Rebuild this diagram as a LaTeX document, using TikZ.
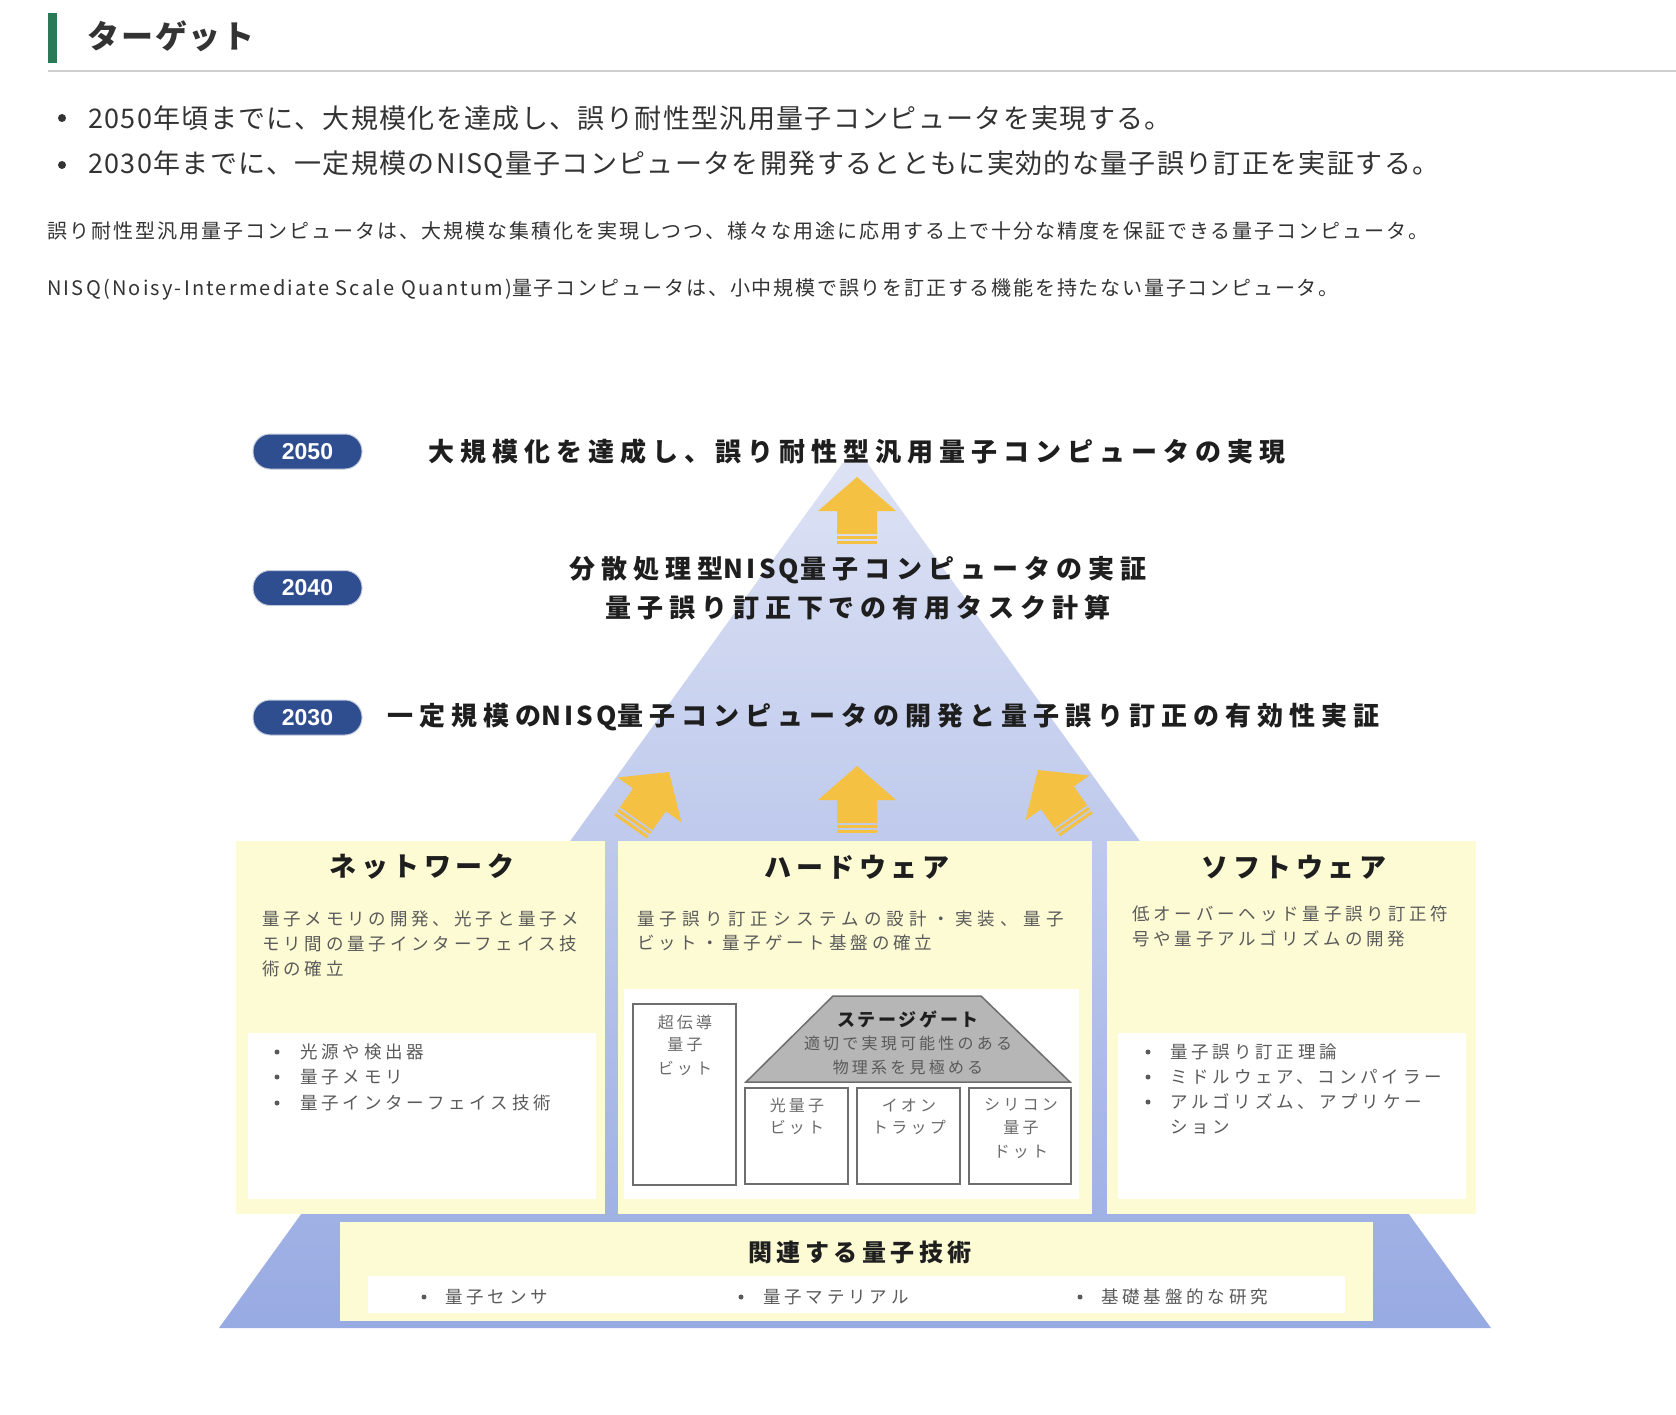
\documentclass[tikz,border=0pt]{standalone}
\usepackage{fontspec}
\newfontfamily\jp{Noto Sans CJK JP}
\newfontfamily\numf{Liberation Sans}
\newcommand\myfs[2]{\fontsize{#1}{#2}\selectfont}
\newcommand\lsp[1]{\addfontfeatures{LetterSpace=#1}}
\definecolor{hdrgreen}{HTML}{2B7A57}
\definecolor{rulegray}{HTML}{CFCFCF}
\definecolor{webtxt}{HTML}{333333}
\definecolor{triTop}{HTML}{DDE2F4}
\definecolor{triMid}{HTML}{C3CEEE}
\definecolor{triBot}{HTML}{97AAE2}
\definecolor{pyellow}{HTML}{FDFBD4}
\definecolor{badge}{HTML}{2E4E90}
\definecolor{badgeedge}{HTML}{C5CCDD}
\definecolor{dark}{HTML}{1E1E1E}
\definecolor{body}{HTML}{5A5A5A}
\definecolor{body2}{HTML}{6A6A6A}
\definecolor{cellline}{HTML}{6E6E6E}
\definecolor{gatefill}{HTML}{B6B6B6}
\definecolor{arrowc}{HTML}{F4C142}
\tikzset{
  web/.style={anchor=west, inner sep=0pt, text=webtxt},
  yr/.style={fill=badge, draw=badgeedge, line width=1pt, rounded corners=17pt,
    minimum width=109pt, minimum height=35pt, inner sep=0pt,
    font=\numf\bfseries\myfs{23}{26}, text=white},
  goal/.style={font=\jp\bfseries\myfs{26}{30}\lsp{23}, text=dark, inner sep=0pt},
  panel/.style={fill=pyellow, anchor=north west, inner sep=0pt},
  inbox/.style={fill=white, anchor=north west, inner sep=0pt},
  ptitle/.style={font=\jp\bfseries\myfs{27}{30}\lsp{17}, text=dark, inner sep=0pt},
  pbody/.style={font=\jp\myfs{17.5}{25}\lsp{22}, text=body, inner sep=0pt, anchor=west},
  small/.style={font=\jp\myfs{16}{22}\lsp{20}, text=body2, inner sep=0pt},
  cell/.style={draw=cellline, line width=1.5pt, fill=white, anchor=north west, inner sep=0pt},
  bdot/.style={fill=body, circle, inner sep=0pt, minimum size=5pt},
  uparr/.pic={
    \fill[arrowc] (0,0) -- (39,34) -- (20,34) -- (20,57) -- (-20,57) -- (-20,34) -- (-39,34) -- cycle;
    \fill[arrowc] (-20,59) rectangle (20,62);
    \fill[arrowc] (-20,64) rectangle (20,67);
  }
}
\newcommand\midNISQ{{\lsp{12}NISQ}\hspace{1pt}}
\begin{document}
\begin{tikzpicture}[x=1pt,y=-1pt]
\useasboundingbox[fill=white] (0,0) rectangle (1676,1414);

% ---------- web header ----------
\fill[hdrgreen] (48,13) rectangle (57,63);
\node[web, font=\jp\bfseries\myfs{32}{36}\lsp{6}] (hdr) at (87,36) {ターゲット};
\draw[rulegray, line width=2pt] (48,71) -- (1676,71);

\node[circle, fill=webtxt, inner sep=0pt, minimum size=8pt] (bd1) at (62,118) {};
\node[circle, fill=webtxt, inner sep=0pt, minimum size=8pt] (bd2) at (62,165) {};
\node[web, font=\jp\myfs{27}{30}\lsp{5}] (l1) at (88,118) {2050年頃までに、大規模化を達成し、誤り耐性型汎用量子コンピュータを実現する。};
\node[web, font=\jp\myfs{27}{30}\lsp{5}] (l2) at (88,165) {2030年までに、一定規模のNISQ量子コンピュータを開発するとともに実効的な量子誤り訂正を実証する。};
\node[web, font=\jp\myfs{20}{24}\lsp{10}] (p1) at (47,231) {誤り耐性型汎用量子コンピュータは、大規模な集積化を実現しつつ、様々な用途に応用する上で十分な精度を保証できる量子コンピュータ。};
\node[web, font=\jp\myfs{20}{24}] (p2) at (47,289) {{\lsp{11}NISQ(Noisy-Intermediate Scale Quantum)}{\lsp{9}量子コンピュータは、小中規模で誤りを訂正する機能を持たない量子コンピュータ。}};

% ---------- pyramid ----------
\shade[top color=triTop, middle color=triMid, bottom color=triBot]
  (842.7,463) -- (867.3,463) -- (1491,1328) -- (219,1328) -- cycle;

% arrows
\pic at (857,477) {uparr};
\pic at (857,766) {uparr};
\pic[rotate=-35] at (669,772) {uparr};
\pic[rotate=35] at (1038,770) {uparr};

% year badges and goals
\node[yr] (y2050) at (307.5,451.5) {2050};
\node[yr] (y2040) at (307.5,588) {2040};
\node[yr] (y2030) at (307.5,717.5) {2030};
\node[goal, anchor=west] (g2050) at (428,452) {大規模化を達成し、誤り耐性型汎用量子コンピュータの実現};
\node[goal] (g2040a) at (858,570) {分散処理型\midNISQ 量子コンピュータの実証};
\node[goal] (g2040b) at (858,608) {量子誤り訂正下での有用タスク計算};
\node[goal, anchor=west] (g2030) at (387,717) {一定規模の\midNISQ 量子コンピュータの開発と量子誤り訂正の有効性実証};

% ---------- three panels ----------
\node[panel, minimum width=369pt, minimum height=373pt] (net) at (236,841) {};
\node[panel, minimum width=474pt, minimum height=373pt] (hw) at (618,841) {};
\node[panel, minimum width=369pt, minimum height=373pt] (sw) at (1107,841) {};
\node[inbox, minimum width=348pt, minimum height=166pt] (netin) at (248,1033) {};
\node[inbox, minimum width=455pt, minimum height=210pt] (hwin) at (624,989) {};
\node[inbox, minimum width=348pt, minimum height=166pt] (swin) at (1118,1033) {};

% network
\node[ptitle] (nett) at (422,867) {ネットワーク};
\node[pbody] (netd1) at (262,919) {量子メモリの開発、光子と量子メ};
\node[pbody] (netd2) at (262,944) {モリ間の量子インターフェイス技};
\node[pbody] (netd3) at (262,969) {術の確立};
\node[bdot] (nb1) at (277,1052) {};
\node[bdot] (nb2) at (277,1077) {};
\node[bdot] (nb3) at (277,1103) {};
\node[pbody] (netl1) at (300,1052) {光源や検出器};
\node[pbody] (netl2) at (300,1077) {量子メモリ};
\node[pbody] (netl3) at (300,1103) {量子インターフェイス技術};

% hardware
\node[ptitle] (hwt) at (857,867) {ハードウェア};
\node[pbody, font=\jp\myfs{17.5}{25}\lsp{30}] (hwd1) at (637,919) {量子誤り訂正システムの設計・実装、量子};
\node[pbody] (hwd2) at (637,943) {ビット・量子ゲート基盤の確立};
\node[cell, minimum width=103pt, minimum height=181pt] (sc) at (632,1003) {};
\node[small] (sc1) at (685,1022) {超伝導};
\node[small] (sc2) at (685,1045) {量子};
\node[small] (sc3) at (685,1068) {ビット};
\draw[draw=cellline, fill=gatefill, line width=1.5pt] (833,996) -- (981,996) -- (1070,1082) -- (746,1082) -- cycle;
\node[small, font=\jp\bfseries\myfs{18}{22}\lsp{15}, text=dark] (sg) at (908,1019) {ステージゲート};
\node[small, text=body] (sg1) at (908,1043) {適切で実現可能性のある};
\node[small, text=body] (sg2) at (908,1067) {物理系を見極める};
\node[cell, minimum width=103pt, minimum height=96pt] (ph) at (744,1087) {};
\node[cell, minimum width=103pt, minimum height=96pt] (ion) at (856,1087) {};
\node[cell, minimum width=102pt, minimum height=96pt] (si) at (968,1087) {};
\node[small] (ph1) at (797,1105) {光量子};
\node[small] (ph2) at (797,1127) {ビット};
\node[small] (ion1) at (909,1105) {イオン};
\node[small] (ion2) at (909,1127) {トラップ};
\node[small] (si1) at (1021,1105) {シリコン};
\node[small] (si2) at (1021,1128) {量子};
\node[small] (si3) at (1021,1152) {ドット};

% software
\node[ptitle] (swt) at (1294,867) {ソフトウェア};
\node[pbody] (swd1) at (1132,914) {低オーバーヘッド量子誤り訂正符};
\node[pbody] (swd2) at (1132,939) {号や量子アルゴリズムの開発};
\node[bdot] (sb1) at (1148,1052) {};
\node[bdot] (sb2) at (1148,1077) {};
\node[bdot] (sb3) at (1148,1102) {};
\node[pbody] (swl1) at (1170,1052) {量子誤り訂正理論};
\node[pbody] (swl2) at (1170,1077) {ミドルウェア、コンパイラー};
\node[pbody] (swl3) at (1170,1102) {アルゴリズム、アプリケー};
\node[pbody] (swl4) at (1170,1127) {ション};

% ---------- related technologies ----------
\node[panel, minimum width=1033pt, minimum height=99pt] (rel) at (340,1222) {};
\node[inbox, minimum width=977pt, minimum height=37pt] (relin) at (368,1276) {};
\node[ptitle, font=\jp\bfseries\myfs{24}{28}\lsp{19}] (relt) at (860,1252) {関連する量子技術};
\node[bdot] (rb1) at (424,1297) {};
\node[bdot] (rb2) at (741,1297) {};
\node[bdot] (rb3) at (1080,1297) {};
\node[pbody] (rl1) at (445,1297) {量子センサ};
\node[pbody] (rl2) at (763,1297) {量子マテリアル};
\node[pbody] (rl3) at (1101,1297) {基礎基盤的な研究};
\end{tikzpicture}
\end{document}
